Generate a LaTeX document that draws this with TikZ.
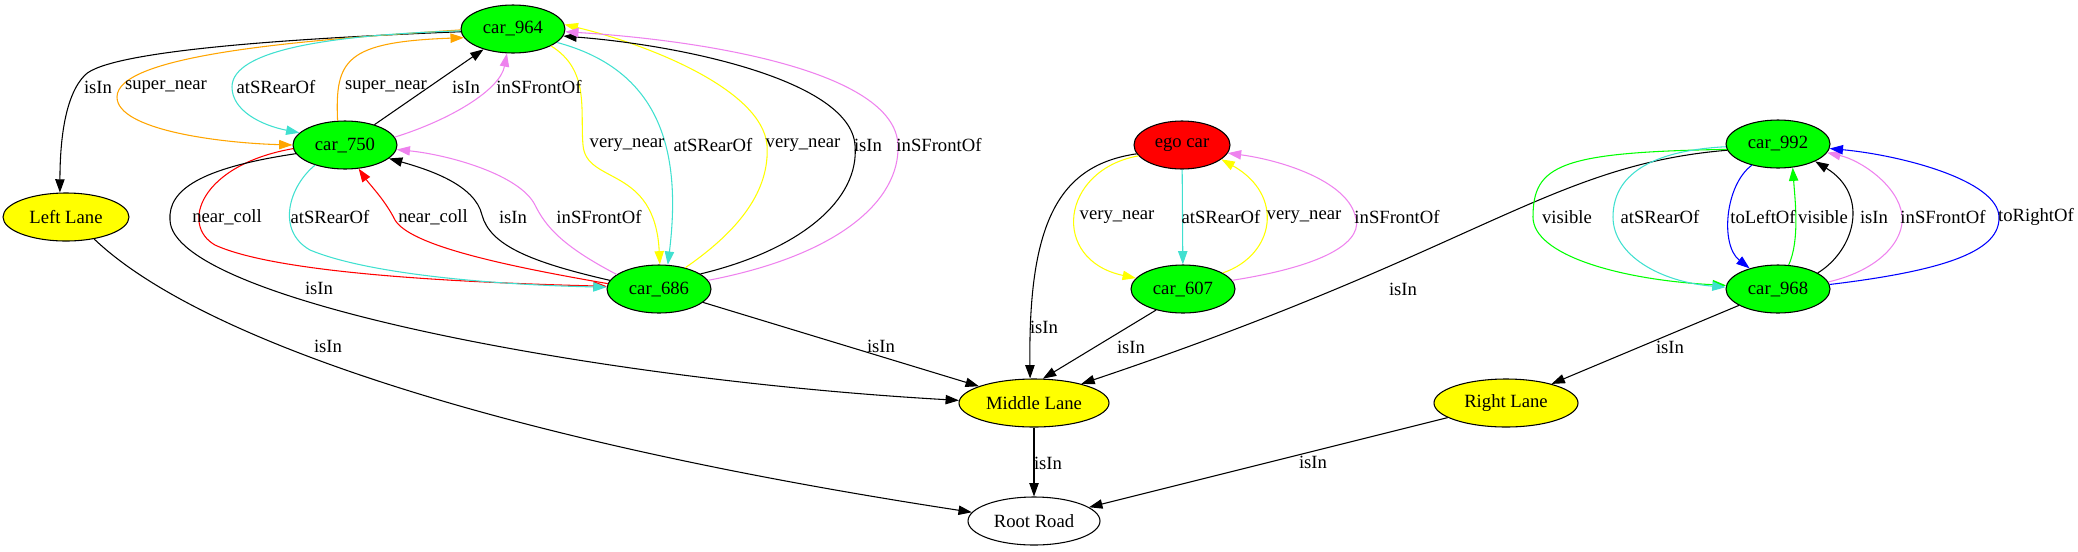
\documentclass[tikz,border=0pt]{standalone}
\usepackage{fontspec}
\setmainfont{Liberation Serif}
\usetikzlibrary{shapes.geometric,arrows.meta}
\definecolor{gvgreen}{RGB}{0,255,0}
\definecolor{gvyellow}{RGB}{255,255,0}
\definecolor{gvred}{RGB}{255,0,0}
\definecolor{gvturq}{RGB}{64,224,208}
\definecolor{gvviolet}{RGB}{238,130,238}
\definecolor{gvorange}{RGB}{255,165,0}
\definecolor{gvblue}{RGB}{0,0,255}

\begin{document}
\begin{tikzpicture}[x=0.75pt,y=-0.75pt,
    every node/.style={font=\fontsize{14}{16}\selectfont},
    obj/.style={ellipse,draw,line width=0.8pt,inner sep=0pt,minimum height=36pt},
    car/.style={obj,fill=gvgreen,minimum width=78pt},
    lane/.style={obj,fill=gvyellow},
    rel/.style={line width=0.8pt,-{Triangle[length=10pt,width=7pt]}},
    lbl/.style={inner sep=0pt}]
  \useasboundingbox (0,0) rectangle (2078,551);
  \node[car] (c964) at (513,29) {car\_964};
  \node[car] (c750) at (345,145) {car\_750};
  \node[car] (c686) at (659,289) {car\_686};
  \node[obj,fill=gvred,minimum width=72pt] (ego) at (1182,145) {ego car};
  \node[car] (c607) at (1183,289) {car\_607};
  \node[car] (c992) at (1778,144) {car\_992};
  \node[car] (c968) at (1778,289) {car\_968};
  \node[lane,minimum width=94.5pt] (left) at (66,217) {Left Lane};
  \node[lane,minimum width=112.5pt] (middle) at (1034,403) {Middle Lane};
  \node[lane,minimum width=108pt] (right) at (1506,403) {Right Lane};
  \node[obj,minimum width=99pt] (root) at (1034,521) {Root Road};
  % car_964
  \draw[rel] (c964.183) .. controls (300,38) and (110,50) .. (85,75)
                        .. controls (65,95) and (60,140) .. (left.104);
  \draw[rel,gvorange] (c964.181) .. controls (300,40) and (117,55) .. (117,97)
                                 .. controls (117,130) and (220,143) .. (c750.180);
  \draw[rel,gvturq] (c964.182) .. controls (330,35) and (232,50) .. (232,87)
                               .. controls (232,110) and (260,125) .. (c750.165);
  \draw[rel,gvyellow] (c964.336) .. controls (590,70) and (580,110) .. (583,145)
                                 .. controls (586,185) and (655,165) .. (c686.88);
  \draw[rel,gvturq] (c964.343) .. controls (660,70) and (682,150) .. (c686.70);
  % car_750
  \draw[rel,gvorange] (c750.107) .. controls (335,60) and (345,42) .. (c964.190);
  \draw[rel] (c750) -- (c964);
  \draw[rel,gvviolet] (c750.9) .. controls (450,120) and (500,90) .. (c964.256);
  \draw[rel,gvred] (c750.184) .. controls (200,165) and (180,225) .. (215,245)
                              .. controls (280,275) and (480,283) .. (c686.177);
  \draw[rel,gvturq] (c750.214) .. controls (290,185) and (275,230) .. (310,250)
                               .. controls (370,275) and (500,285) .. (c686.178);
  \draw[rel] (c750.190) .. controls (200,168) and (168,190) .. (170,220)
                        .. controls (172,300) and (600,380) .. (middle.178);
  % car_686
  \draw[rel,gvyellow] (c686.39) .. controls (740,230) and (770,190) .. (767,145)
                                .. controls (762,90) and (650,45) .. (c964.5);
  \draw[rel] (c686.20) .. controls (800,250) and (860,200) .. (855,145)
                       .. controls (850,80) and (680,45) .. (c964.-8);
  \draw[rel,gvviolet] (c686.10) .. controls (840,255) and (900,200) .. (898,145)
                                .. controls (895,70) and (700,40) .. (c964.-3);
  \draw[rel,gvred] (c686.174) .. controls (500,265) and (410,245) .. (395,220)
                              .. controls (385,200) and (370,185) .. (c750.300);
  \draw[rel] (c686.170) .. controls (530,262) and (490,245) .. (482,215)
                        .. controls (475,185) and (430,170) .. (c750.343);
  \draw[rel,gvviolet] (c686.161) .. controls (560,245) and (545,225) .. (535,205)
                                 .. controls (520,175) and (450,155) .. (c750.355);
  \draw[rel] (c686) -- (middle);
  % ego car
  \draw[rel] (ego.191) .. controls (1060,165) and (1028,220) .. (middle.99);
  \draw[rel,gvyellow] (ego.194) .. controls (1060,170) and (1050,260) .. (c607.167);
  \draw[rel,gvturq] (ego) -- (c607);
  % car_607
  \draw[rel,gvyellow] (c607.22) .. controls (1275,255) and (1285,195) .. (ego.-20);
  \draw[rel,gvviolet] (c607.10) .. controls (1330,265) and (1365,240) .. (1355,215)
                                .. controls (1345,180) and (1280,160) .. (ego.-10);
  \draw[rel] (c607.218) -- (middle.70);
  % car_992
  \draw[rel] (c992.187) .. controls (1550,165) and (1480,250) .. (middle.22);
  \draw[rel,gvgreen] (c992.186) .. controls (1560,152) and (1533,165) .. (1533,217)
                                .. controls (1533,255) and (1620,280) .. (c968.176);
  \draw[rel,gvturq] (c992.183) .. controls (1660,150) and (1613,170) .. (1613,217)
                               .. controls (1613,255) and (1660,282) .. (c968.178);
  \draw[rel,gvblue] (c992.219) .. controls (1725,185) and (1720,245) .. (c968.144);
  % car_968
  \draw[rel,gvgreen] (c968.66) .. controls (1800,240) and (1795,200) .. (c992.302);
  \draw[rel] (c968.22) .. controls (1855,250) and (1870,195) .. (c992.335);
  \draw[rel,gvviolet] (c968.8) .. controls (1880,270) and (1905,240) .. (1902,215)
                               .. controls (1898,185) and (1860,160) .. (c992.350);
  \draw[rel,gvblue] (c968.5) .. controls (1950,270) and (2000,250) .. (1999,217)
                             .. controls (1998,180) and (1900,155) .. (c992.355);
  \draw[rel] (c968) -- (right);
  % lanes
  \draw[rel] (left.322) .. controls (200,340) and (500,440) .. (root.172);
  \draw[rel] (right) -- (root);
  \draw[rel] (middle) -- (root);
  % labels
  \node[lbl] (l1) at (98,87) {isIn};
  \node[lbl] (l2) at (166,87) {super\_near};
  \node[lbl] (l3) at (276,87) {atSRearOf};
  \node[lbl] (l4) at (386,87) {super\_near};
  \node[lbl] (l5) at (466,87) {isIn};
  \node[lbl] (l6) at (539,87) {inSFrontOf};
  \node[lbl] (l7) at (627,145) {very\_near};
  \node[lbl] (l8) at (713,145) {atSRearOf};
  \node[lbl] (l9) at (803,145) {very\_near};
  \node[lbl] (l10) at (868,145) {isIn};
  \node[lbl] (l11) at (939,145) {inSFrontOf};
  \node[lbl] (l12) at (227,217) {near\_coll};
  \node[lbl] (l13) at (330,217) {atSRearOf};
  \node[lbl] (l14) at (433,217) {near\_coll};
  \node[lbl] (l15) at (513,217) {isIn};
  \node[lbl] (l16) at (599,217) {inSFrontOf};
  \node[lbl] (l17) at (319,288) {isIn};
  \node[lbl] (l18) at (881,346) {isIn};
  \node[lbl] (l19) at (328,346) {isIn};
  \node[lbl] (l20) at (1044,327) {isIn};
  \node[lbl] (l21) at (1117,217) {very\_near};
  \node[lbl] (l22) at (1221,217) {atSRearOf};
  \node[lbl] (l23) at (1304,217) {very\_near};
  \node[lbl] (l24) at (1397,217) {inSFrontOf};
  \node[lbl] (l25) at (1131,347) {isIn};
  \node[lbl] (l26) at (1403,289) {isIn};
  \node[lbl] (l27) at (1567,217) {visible};
  \node[lbl] (l28) at (1660,217) {atSRearOf};
  \node[lbl] (l29) at (1763,217) {toLeftOf};
  \node[lbl] (l30) at (1823,217) {visible};
  \node[lbl] (l31) at (1874,217) {isIn};
  \node[lbl] (l32) at (1943,217) {inSFrontOf};
  \node[lbl] (l33) at (2036,217) {toRightOf};
  \node[lbl] (l34) at (1670,347) {isIn};
  \node[lbl] (l35) at (1313,462) {isIn};
  \node[lbl] (l36) at (1048,463) {isIn};
\end{tikzpicture}
\end{document}
